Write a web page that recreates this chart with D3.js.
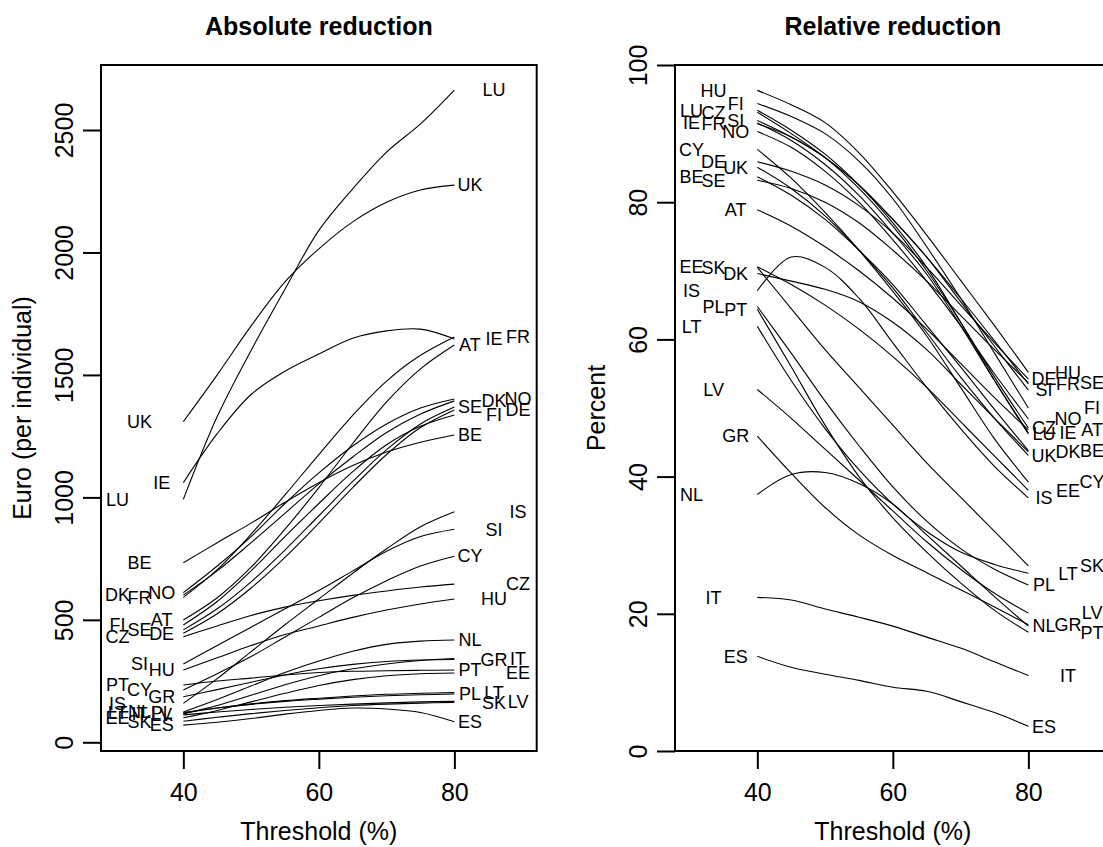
<!DOCTYPE html>
<html lang="en">

<head>
    <meta charset="UTF-8">
    <title>Absolute and relative reduction</title>
    <script src="https://d3js.org/d3.v7.min.js"></script>
    <style>
        body { margin: 0; background: #fff; }
        svg { display: block; font-family: "Liberation Sans", Arial, Helvetica, sans-serif; }
    </style>
</head>

<body>
    <svg width="1103" height="847"></svg>

    <script>
        // thresholds (% of median) at which each country was evaluated
        const thresholds = [40, 45, 50, 55, 60, 65, 70, 75, 80];

        const countries = ['AT', 'BE', 'CY', 'CZ', 'DE', 'DK', 'EE', 'ES', 'FI', 'FR', 'GR', 'HU', 'IE',
            'IS', 'IT', 'LT', 'LU', 'LV', 'NL', 'NO', 'PL', 'PT', 'SE', 'SI', 'SK', 'UK'];

        // euro per individual, one row per country (same order as countries)
        const absoluteEuro = [
            [499, 590, 715, 870, 1040, 1220, 1390, 1525, 1622],   // AT
            [733, 815, 895, 980, 1060, 1130, 1185, 1225, 1255],   // BE
            [214, 280, 350, 430, 510, 590, 660, 720, 760],        // CY
            [431, 475, 518, 552, 578, 600, 618, 634, 646],        // CZ
            [445, 525, 630, 755, 895, 1040, 1175, 1285, 1357],    // DE
            [601, 700, 815, 935, 1055, 1165, 1265, 1340, 1394],   // DK
            [100, 130, 165, 200, 232, 256, 272, 280, 283],        // EE
            [70, 82, 97, 115, 130, 140, 136, 122, 84],            // ES
            [479, 575, 700, 840, 975, 1105, 1215, 1290, 1336],    // FI
            [592, 705, 850, 1010, 1175, 1335, 1475, 1580, 1655],  // FR
            [186, 215, 245, 275, 300, 318, 330, 336, 338],        // GR
            [295, 345, 395, 440, 475, 510, 540, 565, 585],        // HU
            [1060, 1260, 1420, 1515, 1585, 1650, 1680, 1687, 1647], // IE
            [159, 260, 370, 480, 585, 690, 790, 880, 941],        // IS
            [116, 150, 192, 235, 272, 300, 320, 334, 342],        // IT
            [119, 140, 157, 170, 180, 189, 196, 200, 203],        // LT
            [992, 1330, 1600, 1850, 2090, 2260, 2410, 2525, 2663], // LU
            [112, 124, 134, 143, 150, 156, 161, 165, 167],        // LV
            [124, 175, 230, 285, 332, 372, 400, 413, 418],        // NL
            [611, 720, 840, 975, 1100, 1210, 1300, 1365, 1402],   // NO
            [122, 140, 155, 167, 176, 184, 190, 194, 197],        // PL
            [234, 250, 262, 275, 285, 290, 292, 294, 295],        // PT
            [459, 545, 655, 785, 925, 1065, 1195, 1300, 1369],    // SE
            [320, 395, 470, 545, 620, 700, 780, 840, 870],        // SI
            [86, 102, 117, 130, 141, 150, 156, 160, 163],         // SK
            [1309, 1500, 1700, 1880, 2015, 2125, 2205, 2255, 2275] // UK
        ];

        // percent reduction, same order
        const relativePercent = [
            [78.9, 76.5, 73.5, 70.0, 66.0, 61.5, 56.5, 51.5, 46.8],  // AT
            [83.7, 81.0, 77.5, 73.0, 68.0, 62.0, 56.0, 49.8, 43.8],  // BE
            [87.7, 83.5, 78.5, 73.0, 67.0, 60.5, 53.0, 45.5, 39.2],  // CY
            [93.1, 90.0, 86.5, 82.0, 76.5, 70.0, 62.5, 54.5, 47.1],  // CZ
            [85.9, 84.5, 82.5, 79.5, 75.5, 70.5, 65.0, 59.5, 54.2],  // DE
            [69.6, 68.5, 67.3, 65.5, 62.5, 58.5, 53.5, 48.5, 43.6],  // DK
            [70.6, 68.0, 65.0, 61.5, 57.5, 53.0, 48.0, 43.0, 38.0],  // EE
            [13.8, 12.2, 11.2, 10.3, 9.3, 8.7, 7.2, 5.6, 3.6],       // ES
            [94.4, 92.5, 90.0, 86.0, 80.5, 73.5, 66.0, 58.0, 50.0],  // FI
            [91.45, 89.5, 86.5, 82.5, 77.5, 72.0, 66.0, 59.8, 53.5], // FR
            [45.9, 40.5, 35.5, 31.5, 28.5, 26.0, 23.5, 21.0, 18.4],  // GR
            [96.3, 94.2, 91.6, 87.2, 81.5, 75.2, 68.6, 62.0, 55.2],  // HU
            [91.55, 89.0, 85.5, 81.0, 75.5, 69.5, 62.0, 54.0, 46.4], // IE
            [67.1, 72.0, 70.5, 66.0, 59.5, 53.0, 47.0, 41.5, 36.9],  // IS
            [22.4, 22.0, 20.7, 19.5, 18.2, 16.6, 15.0, 13.0, 11.0],  // IT
            [61.9, 54.0, 47.0, 41.0, 36.0, 32.0, 29.0, 27.2, 25.9],  // LT
            [93.4, 90.5, 87.0, 82.5, 77.0, 70.5, 62.5, 54.0, 46.2],  // LU
            [52.7, 48.5, 44.0, 39.5, 35.0, 30.5, 26.5, 23.0, 20.1],  // LV
            [37.4, 40.3, 40.6, 39.0, 36.0, 31.5, 27.0, 22.5, 18.2],  // NL
            [90.3, 88.0, 84.5, 80.0, 74.5, 68.5, 62.0, 55.0, 48.4],  // NO
            [64.8, 58.0, 51.0, 44.5, 38.5, 33.5, 29.5, 26.5, 24.2],  // PL
            [64.4, 56.0, 47.5, 40.0, 34.0, 29.0, 24.5, 20.5, 17.3],  // PT
            [83.2, 82.0, 80.0, 77.0, 73.0, 68.5, 63.5, 58.5, 53.7],  // SE
            [91.9, 89.5, 86.5, 82.5, 77.5, 72.0, 65.5, 59.0, 52.6],  // SI
            [70.5, 64.5, 58.5, 53.0, 47.5, 42.0, 37.0, 32.0, 27.0],  // SK
            [85.1, 82.0, 78.0, 73.0, 67.5, 61.0, 54.5, 48.5, 43.1]   // UK
        ];

        const xTicks = [40, 60, 80];
        const absTicks = [0, 500, 1000, 1500, 2000, 2500];
        const relTicks = [0, 20, 40, 60, 80, 100];

        (function () {
            const svg = d3.select('svg');

            const top = 65, bottom = 751, plotW = 435.7;
            const tickLen = 18;
            const font = '"Liberation Sans", Arial, Helvetica, sans-serif';

            // label columns, cycled by rank so neighbouring labels don't sit on top of each other
            const leftCols = [36.8, 33.55, 30.3];
            const rightCols = [82.3, 85.85, 89.4];

            function labelX(vals, cols) {
                const order = d3.range(vals.length).sort((a, b) => vals[a] - vals[b]);
                const pos = [];
                order.forEach((idx, r) => { pos[idx] = cols[r % 3]; });
                return pos;
            }

            const panels = [
                { title: 'Absolute reduction', ylab: 'Euro (per individual)', values: absoluteEuro,
                  yDomain: [-35.5, 2765.4], yTicks: absTicks, left: 101 },
                { title: 'Relative reduction', ylab: 'Percent', values: relativePercent,
                  yDomain: [0, 100], yTicks: relTicks, left: 675 }
            ];

            panels.forEach(p => {
                const x = d3.scaleLinear().domain([27.85, 92.15]).range([p.left, p.left + plotW]);
                const y = d3.scaleLinear().domain(p.yDomain).range([bottom, top]);
                const g = svg.append('g');

                const line = d3.line()
                    .x((d, i) => x(thresholds[i]))
                    .y(d => y(d))
                    .curve(d3.curveCatmullRom.alpha(0.5));

                g.selectAll('path.series')
                    .data(p.values)
                    .enter()
                    .append('path')
                    .attr('class', 'series')
                    .attr('d', line)
                    .attr('fill', 'none')
                    .attr('stroke', '#000')
                    .attr('stroke-width', 1.1);

                // country codes at both ends
                const first = p.values.map(v => v[0]);
                const last = p.values.map(v => v[v.length - 1]);
                const lx = labelX(first, leftCols);
                const rx = labelX(last, rightCols);

                g.selectAll('text.lab-l')
                    .data(countries)
                    .enter()
                    .append('text')
                    .attr('class', 'lab-l')
                    .attr('x', (d, i) => x(lx[i]))
                    .attr('y', (d, i) => y(first[i]))
                    .attr('dy', '0.35em')
                    .attr('text-anchor', 'middle')
                    .attr('font-size', 18)
                    .text(d => d);

                g.selectAll('text.lab-r')
                    .data(countries)
                    .enter()
                    .append('text')
                    .attr('class', 'lab-r')
                    .attr('x', (d, i) => x(rx[i]))
                    .attr('y', (d, i) => y(last[i]))
                    .attr('dy', '0.35em')
                    .attr('text-anchor', 'middle')
                    .attr('font-size', 18)
                    .text(d => d);

                // box
                g.append('rect')
                    .attr('x', p.left)
                    .attr('y', top)
                    .attr('width', plotW)
                    .attr('height', bottom - top)
                    .attr('fill', 'none')
                    .attr('stroke', '#000')
                    .attr('stroke-width', 2);

                // axes
                const xa = g.append('g')
                    .attr('transform', `translate(0,${bottom})`)
                    .call(d3.axisBottom(x).tickValues(xTicks).tickSize(tickLen).tickFormat(d3.format('d')));
                xa.select('.domain').remove();
                xa.selectAll('line').attr('stroke-width', 2);
                xa.selectAll('text')
                    .attr('y', 49.5)
                    .attr('dy', 0)
                    .attr('font-size', 25)
                    .attr('font-family', font)
                    .attr('fill', '#000');

                const ya = g.append('g')
                    .attr('transform', `translate(${p.left},0)`)
                    .call(d3.axisLeft(y).tickValues(p.yTicks).tickSize(tickLen).tickFormat(d3.format('d')));
                ya.select('.domain').remove();
                ya.selectAll('line').attr('stroke-width', 2);
                ya.selectAll('text')
                    .attr('x', null)
                    .attr('dy', 0)
                    .attr('transform', 'translate(-27.7,0) rotate(-90)')
                    .attr('text-anchor', 'middle')
                    .attr('font-size', 25)
                    .attr('font-family', font)
                    .attr('fill', '#000');

                // titles
                const cx = p.left + plotW / 2;
                g.append('text')
                    .attr('x', cx)
                    .attr('y', 35)
                    .attr('text-anchor', 'middle')
                    .attr('font-size', 25)
                    .attr('font-weight', 'bold')
                    .text(p.title);

                g.append('text')
                    .attr('x', cx)
                    .attr('y', 840)
                    .attr('text-anchor', 'middle')
                    .attr('font-size', 25)
                    .text('Threshold (%)');

                g.append('text')
                    .attr('transform', `translate(${p.left - 70},${(top + bottom) / 2}) rotate(-90)`)
                    .attr('text-anchor', 'middle')
                    .attr('font-size', 25)
                    .text(p.ylab);
            });
        })();
    </script>
</body>

</html>
